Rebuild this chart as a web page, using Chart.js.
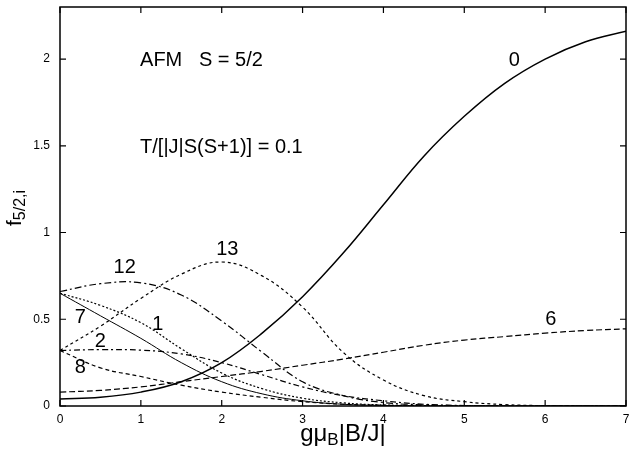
<!DOCTYPE html>
<html>
<head>
<meta charset="utf-8">
<script src="https://cdn.jsdelivr.net/npm/chart.js@4"></script>
<style>
  body { margin: 0; background: #fff; }
</style>
</head>
<body>
<canvas id="fig" width="631" height="449"></canvas>
<script>
// field values g*muB*|B/J|
const xs = [0, 0.5, 1, 1.5, 2, 2.5, 3, 3.5, 4, 4.5, 5, 5.5, 6, 6.5, 7]

// f_{5/2,i} for each level i
const f0  = [0.04, 0.05, 0.08, 0.14, 0.25, 0.42, 0.63, 0.88, 1.16, 1.44, 1.67, 1.86, 2.00, 2.10, 2.16]
const f6  = [0.08, 0.09, 0.11, 0.14, 0.17, 0.20, 0.235, 0.27, 0.31, 0.35, 0.38, 0.40, 0.42, 0.435, 0.445]
const f13 = [0.32, 0.46, 0.62, 0.76, 0.83, 0.75, 0.57, 0.31, 0.15, 0.06, 0.025, 0.008, 0.002, 0, 0]
const f12 = [0.66, 0.705, 0.71, 0.64, 0.49, 0.31, 0.14, 0.06, 0.02, 0.007, 0.002, 0, 0, 0, 0]
const f7  = [0.65, 0.52, 0.39, 0.25, 0.14, 0.07, 0.03, 0.01, 0.003, 0, 0, 0, 0, 0, 0]
const f1  = [0.65, 0.58, 0.48, 0.33, 0.19, 0.10, 0.045, 0.018, 0.006, 0.002, 0, 0, 0, 0, 0]
const f2  = [0.32, 0.325, 0.322, 0.30, 0.25, 0.18, 0.11, 0.06, 0.03, 0.01, 0.003, 0, 0, 0, 0]
const f8  = [0.32, 0.22, 0.17, 0.12, 0.08, 0.05, 0.025, 0.01, 0.004, 0.001, 0, 0, 0, 0, 0]

const xTicks = [0, 1, 2, 3, 4, 5, 6, 7]
const yTicks = [0, 0.5, 1, 1.5, 2]

// curve labels, in data coordinates
const curveNames = ['0', '6', '13', '12', '7', '1', '2', '8']
const nameX = [5.62, 6.07, 2.07, 0.8, 0.25, 1.21, 0.5, 0.25]
const nameY = [1.99, 0.50, 0.90, 0.80, 0.51, 0.47, 0.37, 0.22]

const FONT = '"Liberation Sans", Arial, sans-serif'

const pts = (ys) => xs.map((x, i) => ({ x: x, y: ys[i] }))

function series(name, ys, dash, width) {
  return {
    label: name,
    data: pts(ys),
    borderColor: '#000',
    borderWidth: width || 1.2,
    borderDash: dash,
    pointRadius: 0,
    tension: 0.4,
    fill: false
  }
}

const decor = {
  id: 'decor',
  afterDraw(chart) {
    const { ctx, chartArea: a, scales: { x, y } } = chart
    ctx.save()
    ctx.strokeStyle = '#000'
    ctx.lineWidth = 1.5
    ctx.strokeRect(a.left, a.top, a.right - a.left, a.bottom - a.top)

    // inward tick marks on all four sides
    ctx.lineWidth = 1.2
    ctx.beginPath()
    xTicks.forEach(v => {
      const px = x.getPixelForValue(v)
      ctx.moveTo(px, a.bottom); ctx.lineTo(px, a.bottom - 6)
      ctx.moveTo(px, a.top); ctx.lineTo(px, a.top + 6)
    })
    yTicks.forEach(v => {
      const py = y.getPixelForValue(v)
      ctx.moveTo(a.left, py); ctx.lineTo(a.left + 6, py)
      ctx.moveTo(a.right, py); ctx.lineTo(a.right - 6, py)
    })
    ctx.stroke()

    ctx.fillStyle = '#000'
    ctx.textBaseline = 'middle'
    ctx.textAlign = 'center'
    ctx.font = '20px ' + FONT
    curveNames.forEach((n, i) => {
      ctx.fillText(n, x.getPixelForValue(nameX[i]), y.getPixelForValue(nameY[i]))
    })

    ctx.textAlign = 'left'
    ctx.fillText('AFM   S = 5/2', x.getPixelForValue(0.99), y.getPixelForValue(1.99))
    ctx.fillText('T/[|J|S(S+1)] = 0.1', x.getPixelForValue(0.99), y.getPixelForValue(1.49))

    // x axis title  g mu_B |B/J|
    ctx.textBaseline = 'alphabetic'
    let big = '24px ' + FONT, small = '17px ' + FONT
    ctx.font = big
    const w1 = ctx.measureText('gμ').width, w3 = ctx.measureText('|B/J|').width
    ctx.font = small
    const w2 = ctx.measureText('B').width
    let tx = 343 - (w1 + w2 + w3) / 2
    const ty = 441
    ctx.font = big; ctx.fillText('gμ', tx, ty); tx += w1
    ctx.font = small; ctx.fillText('B', tx, ty + 4); tx += w2
    ctx.font = big; ctx.fillText('|B/J|', tx, ty)

    // y axis title  f_{5/2,i}
    big = '21px ' + FONT; small = '16px ' + FONT
    ctx.translate(21, 208)
    ctx.rotate(-Math.PI / 2)
    ctx.font = big
    const fw = ctx.measureText('f').width
    ctx.font = small
    const sw = ctx.measureText('5/2,i').width
    let sx = -(fw + sw) / 2
    ctx.font = big; ctx.fillText('f', sx, 0); sx += fw
    ctx.font = small; ctx.fillText('5/2,i', sx, 4)
    ctx.restore()
  }
}

new Chart(document.getElementById('fig'), {
  type: 'line',
  data: {
    datasets: [
      series('0', f0, [], 1.5),
      series('6', f6, [6, 3]),
      series('13', f13, [3, 3]),
      series('12', f12, [7, 3, 2, 3]),
      series('7', f7, [], 1),
      series('1', f1, [2, 2]),
      series('2', f2, [6, 3, 2, 3]),
      series('8', f8, [4, 3])
    ]
  },
  options: {
    responsive: false,
    animation: false,
    layout: { padding: { top: 7, right: 5, left: 0, bottom: 0 } },
    plugins: { legend: { display: false }, tooltip: { enabled: false } },
    scales: {
      x: {
        type: 'linear',
        min: 0,
        max: 7,
        afterBuildTicks: (s) => { s.ticks = xTicks.map(v => ({ value: v })) },
        afterFit: (s) => { s.height = 43; s.paddingLeft = 0; s.paddingRight = 0 },
        grid: { display: false, drawTicks: false },
        border: { display: false },
        ticks: { color: '#000', padding: 6, font: { family: FONT, size: 12 } }
      },
      y: {
        min: 0,
        max: 2.3,
        afterBuildTicks: (s) => { s.ticks = yTicks.map(v => ({ value: v })) },
        afterFit: (s) => { s.width = 60; s.paddingTop = 0; s.paddingBottom = 0 },
        grid: { display: false, drawTicks: false },
        border: { display: false },
        ticks: {
          color: '#000', padding: 10, font: { family: FONT, size: 12 },
          callback: (v) => String(v)
        }
      }
    }
  },
  plugins: [decor]
})
</script>
</body>
</html>
